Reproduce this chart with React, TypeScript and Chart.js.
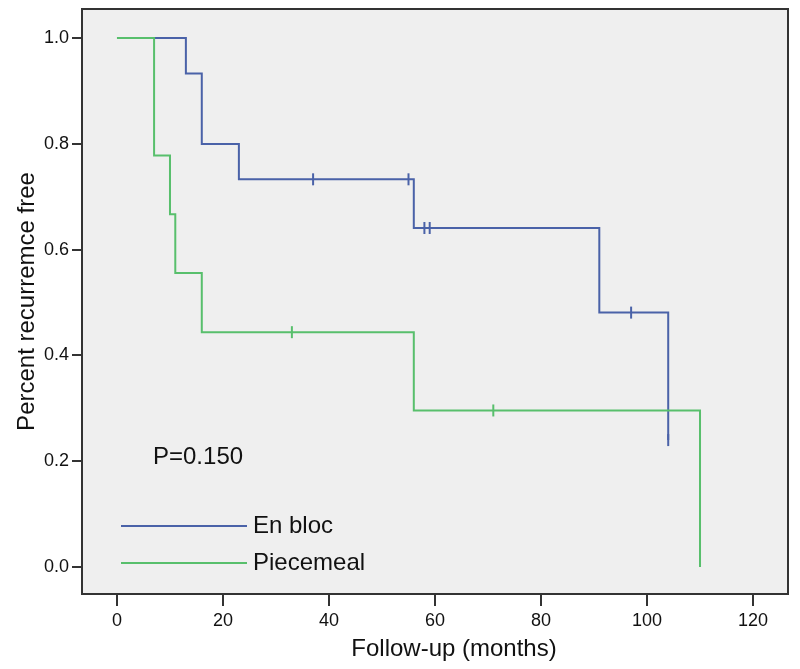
import React, { useEffect, useRef } from "react";
import { Chart, registerables } from "chart.js";

Chart.register(...registerables);

// Kaplan-Meier step data (time in months, survival proportion)
const enBlocTimes = [0, 13, 16, 23, 56, 91, 104];
const enBlocSurvival = [1.0, 0.933, 0.8, 0.733, 0.641, 0.481, 0.24];
const enBlocCensored = [37, 55, 58, 59, 97, 104];

const piecemealTimes = [0, 7, 10, 11, 16, 56, 110];
const piecemealSurvival = [1.0, 0.778, 0.667, 0.556, 0.444, 0.296, 0.0];
const piecemealCensored = [33, 71];

const xTickValues = [0, 20, 40, 60, 80, 100, 120];
const yTickValues = [0.0, 0.2, 0.4, 0.6, 0.8, 1.0];

const seriesNames = ["En bloc", "Piecemeal"];
const pValueText = "P=0.150";
const xTitle = "Follow-up (months)";
const yTitle = "Percent recurremce free";

const BLUE = "#4a62a8";
const GREEN = "#58bf6c";
const FONT = "Arial, 'Liberation Sans', sans-serif";

function stepValue(times: number[], surv: number[], t: number): number {
  let v = surv[0];
  for (let i = 0; i < times.length; i++) {
    if (times[i] <= t) v = surv[i];
  }
  return v;
}

const frameAndAnnotations = {
  id: "frameAndAnnotations",
  beforeDraw(chart: any) {
    const { ctx, chartArea } = chart;
    ctx.save();
    ctx.fillStyle = "#ffffff";
    ctx.fillRect(0, 0, chart.width, chart.height);
    ctx.fillStyle = "#efefef";
    ctx.fillRect(chartArea.left, chartArea.top, chartArea.right - chartArea.left, chartArea.bottom - chartArea.top);
    ctx.restore();
  },
  afterDraw(chart: any) {
    const { ctx, chartArea } = chart;
    ctx.save();
    ctx.strokeStyle = "#333333";
    ctx.lineWidth = 2;
    ctx.strokeRect(chartArea.left, chartArea.top, chartArea.right - chartArea.left, chartArea.bottom - chartArea.top);

    const l = chartArea.left;
    const b = chartArea.bottom;
    ctx.font = `24px ${FONT}`;
    ctx.fillStyle = "#111111";
    ctx.textBaseline = "middle";
    ctx.textAlign = "left";
    ctx.fillText(pValueText, l + 71, b - 137);

    const colors = [BLUE, GREEN];
    const ys = [b - 68, b - 31];
    for (let i = 0; i < 2; i++) {
      ctx.strokeStyle = colors[i];
      ctx.lineWidth = 2;
      ctx.beginPath();
      ctx.moveTo(l + 39, ys[i]);
      ctx.lineTo(l + 165, ys[i]);
      ctx.stroke();
      ctx.fillStyle = "#111111";
      ctx.fillText(seriesNames[i], l + 171, ys[i]);
    }

    // x-axis title
    ctx.textAlign = "center";
    ctx.fillText(xTitle, 454, 649);
    ctx.restore();
  },
};

export default function App() {
  const canvasRef = useRef<HTMLCanvasElement | null>(null);

  useEffect(() => {
    document.body.style.margin = "0";
    const canvas = canvasRef.current;
    if (!canvas) return;

    const enBlocLine = enBlocTimes.map((t, i) => ({ x: t, y: enBlocSurvival[i] }));
    const piecemealLine = piecemealTimes.map((t, i) => ({ x: t, y: piecemealSurvival[i] }));
    const enBlocCens = enBlocCensored.map((t) => ({ x: t, y: stepValue(enBlocTimes, enBlocSurvival, t) }));
    const piecemealCens = piecemealCensored.map((t) => ({ x: t, y: stepValue(piecemealTimes, piecemealSurvival, t) }));

    const chart = new Chart(canvas, {
      type: "scatter",
      data: {
        datasets: [
          {
            label: seriesNames[1] + " censored",
            data: piecemealCens,
            showLine: false,
            pointStyle: "line",
            rotation: 90,
            pointRadius: 6,
            borderWidth: 2,
            borderColor: GREEN,
            backgroundColor: GREEN,
          } as any,
          {
            label: seriesNames[1],
            data: piecemealLine,
            showLine: true,
            stepped: "before",
            pointRadius: 0,
            borderWidth: 2,
            borderColor: GREEN,
            backgroundColor: GREEN,
          },
          {
            label: seriesNames[0] + " censored",
            data: enBlocCens,
            showLine: false,
            pointStyle: "line",
            rotation: 90,
            pointRadius: 6,
            borderWidth: 2,
            borderColor: BLUE,
            backgroundColor: BLUE,
          } as any,
          {
            label: seriesNames[0],
            data: enBlocLine,
            showLine: true,
            stepped: "before",
            pointRadius: 0,
            borderWidth: 2,
            borderColor: BLUE,
            backgroundColor: BLUE,
          },
        ],
      },
      options: {
        animation: false,
        responsive: false,
        maintainAspectRatio: false,
        layout: { padding: { top: 9, right: 12, left: 0, bottom: 0 } },
        plugins: {
          legend: { display: false },
          tooltip: { enabled: false },
        },
        scales: {
          x: {
            type: "linear",
            min: -6.6,
            max: 126.6,
            afterBuildTicks: (scale: any) => {
              scale.ticks = xTickValues.map((v) => ({ value: v }));
            },
            afterFit: (scale: any) => {
              scale.height = 75;
              scale.paddingLeft = 0;
              scale.paddingRight = 0;
            },
            grid: {
              drawOnChartArea: false,
              drawTicks: true,
              tickLength: 12,
              color: "#333333",
              lineWidth: 2,
            },
            border: { display: false },
            ticks: {
              color: "#111111",
              font: { family: FONT, size: 18 },
              padding: 4,
              maxRotation: 0,
              callback: (v: any) => String(v),
            },
            title: { display: false },
          },
          y: {
            type: "linear",
            min: -0.051,
            max: 1.055,
            afterBuildTicks: (scale: any) => {
              scale.ticks = yTickValues.map((v) => ({ value: v }));
            },
            afterFit: (scale: any) => {
              scale.width = 82;
              scale.paddingTop = 0;
              scale.paddingBottom = 0;
            },
            grid: {
              drawOnChartArea: false,
              drawTicks: true,
              tickLength: 10,
              color: "#333333",
              lineWidth: 2,
            },
            border: { display: false },
            ticks: {
              color: "#111111",
              font: { family: FONT, size: 18 },
              padding: 3,
              callback: (v: any) => Number(v).toFixed(1),
            },
            title: {
              display: true,
              text: yTitle,
              color: "#111111",
              font: { family: FONT, size: 24 },
              padding: { top: 13, bottom: 0 },
            },
          },
        },
      },
      plugins: [frameAndAnnotations],
    });

    return () => chart.destroy();
  }, []);

  return (
    <div style={{ width: 800, height: 669 }}>
      <canvas ref={canvasRef} width={800} height={669} style={{ display: "block" }} />
    </div>
  );
}
